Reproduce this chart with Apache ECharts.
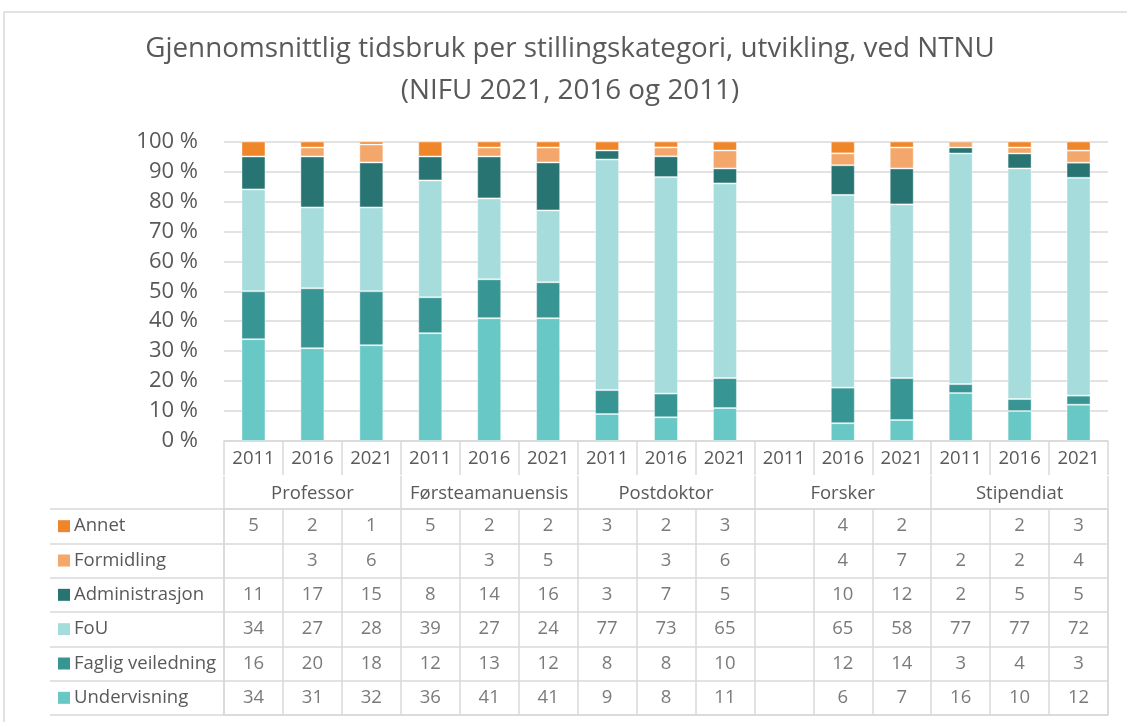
<!DOCTYPE html>
<html>
<head>
<meta charset="utf-8">
<script src="https://cdn.jsdelivr.net/npm/echarts@6/dist/echarts.min.js"></script>
<style>
    html, body { margin: 0; padding: 0; background: #fff; }
    #chart { width: 1127px; height: 722px; }
</style>
</head>
<body>
<div id="chart"></div>
<script>
var years = ['2011', '2016', '2021', '2011', '2016', '2021', '2011', '2016', '2021',
    '2011', '2016', '2021', '2011', '2016', '2021'];
var groups = ['Professor', 'Førsteamanuensis', 'Postdoktor', 'Forsker', 'Stipendiat'];
var percentTicks = [0, 10, 20, 30, 40, 50, 60, 70, 80, 90, 100];

// table rows, top to bottom (same order as in the data table)
var rowNames = ['Annet', 'Formidling', 'Administrasjon', 'FoU', 'Faglig veiledning', 'Undervisning'];
var annet = [5, 2, 1, 5, 2, 2, 3, 2, 3, null, 4, 2, null, 2, 3];
var formidling = [null, 3, 6, null, 3, 5, null, 3, 6, null, 4, 7, 2, 2, 4];
var administrasjon = [11, 17, 15, 8, 14, 16, 3, 7, 5, null, 10, 12, 2, 5, 5];
var fou = [34, 27, 28, 39, 27, 24, 77, 73, 65, null, 65, 58, 77, 77, 72];
var fagligVeiledning = [16, 20, 18, 12, 13, 12, 8, 8, 10, null, 12, 14, 3, 4, 3];
var undervisning = [34, 31, 32, 36, 41, 41, 9, 8, 11, null, 6, 7, 16, 10, 12];

var colors = {
    'Annet': '#F0862A',
    'Formidling': '#F3A76B',
    'Administrasjon': '#277473',
    'FoU': '#A7DCDC',
    'Faglig veiledning': '#379594',
    'Undervisning': '#68C8C6'
};

var rows = [annet, formidling, administrasjon, fou, fagligVeiledning, undervisning];
var textColor = '#595959';
var lineColor = '#D9D9D9';
var font = '"Open Sans", "Noto Sans", sans-serif';
var tableFont = 18.5;

// column totals, used to stack each column to 100 %
var totals = years.map(function(y, i) {
    var sum = 0;
    rows.forEach(function(r) { sum += r[i] || 0; });
    return sum;
});

var barSeries = [];
for (var k = rows.length - 1; k >= 0; k--) {
    (function(k) {
        barSeries.push({
            name: rowNames[k],
            type: 'bar',
            stack: 'all',
            barWidth: 24,
            xAxisIndex: 0,
            yAxisIndex: 0,
            itemStyle: {
                color: colors[rowNames[k]],
                borderColor: 'rgba(255,255,255,0.4)',
                borderWidth: 1
            },
            data: rows[k].map(function(v, i) {
                return (v == null || !totals[i]) ? null : v / totals[i] * 100;
            })
        });
    })(k);
}

var cells = [];
rows.forEach(function(r, ri) {
    r.forEach(function(v, ci) {
        if (v != null) cells.push([ci, ri, v]);
    });
});

var richLabel = { name: { color: textColor, fontSize: tableFont, fontFamily: font, padding: [0, 0, 0, 4] } };
rowNames.forEach(function(n, i) {
    richLabel['sq' + i] = { backgroundColor: colors[n], width: 12, height: 12 };
});

var lineStyle = { color: lineColor, width: 1.5 };

var chart = echarts.init(document.getElementById('chart'));
var option = {
    backgroundColor: '#fff',
    animation: false,
    textStyle: { fontFamily: font },
    title: {
        text: 'Gjennomsnittlig tidsbruk per stillingskategori, utvikling, ved NTNU\n(NIFU 2021, 2016 og 2011)',
        left: 565,
        top: 23,
        textAlign: 'center',
        textStyle: {
            color: textColor,
            fontSize: 27.8,
            fontWeight: 'normal',
            fontFamily: font,
            lineHeight: 42
        }
    },
    graphic: [{
        type: 'rect',
        shape: { x: 4, y: 12, width: 1300, height: 900 },
        style: { fill: 'none', stroke: lineColor, lineWidth: 1.5 },
        silent: true
    }],
    grid: [
        { left: 224, right: 19, top: 141.5, bottom: 281 },
        { left: 224, right: 19, top: 509, bottom: 7, show: true, borderColor: lineColor, borderWidth: 1.5 }
    ],
    xAxis: [{
        type: 'category',
        gridIndex: 0,
        data: years,
        axisLine: { show: true, lineStyle: lineStyle },
        axisTick: { show: true, length: 34, lineStyle: lineStyle },
        axisLabel: { color: textColor, fontSize: tableFont, margin: 8, interval: 0 }
    }, {
        type: 'category',
        gridIndex: 0,
        position: 'bottom',
        offset: 35,
        data: groups,
        axisLine: { show: false },
        axisTick: { show: true, length: 34, lineStyle: lineStyle },
        axisLabel: { color: textColor, fontSize: tableFont, margin: 8, interval: 0 }
    }, {
        type: 'category',
        gridIndex: 1,
        data: years,
        axisLine: { show: false },
        axisTick: { show: false },
        axisLabel: { show: false },
        splitLine: { show: true, interval: 0, lineStyle: lineStyle }
    }],
    yAxis: [{
        type: 'value',
        gridIndex: 0,
        min: 0,
        max: percentTicks[percentTicks.length - 1],
        interval: percentTicks[1] - percentTicks[0],
        axisLine: { show: false },
        axisTick: { show: false },
        axisLabel: { color: textColor, fontSize: 22, margin: 26, formatter: '{value} %' },
        splitLine: { lineStyle: lineStyle }
    }, {
        type: 'category',
        gridIndex: 1,
        inverse: true,
        data: rowNames,
        axisLine: { show: false },
        axisTick: { show: true, length: 174, interval: 0, lineStyle: lineStyle },
        axisLabel: {
            align: 'left',
            margin: 166,
            interval: 0,
            formatter: function(v) {
                return '{sq' + rowNames.indexOf(v) + '|}{name|' + v + '}';
            },
            rich: richLabel
        },
        splitLine: { show: true, interval: 0, lineStyle: lineStyle }
    }, {
        type: 'category',
        gridIndex: 1,
        inverse: true,
        offset: 174,
        data: rowNames,
        axisLine: { show: true, lineStyle: lineStyle },
        axisTick: { show: false },
        axisLabel: { show: false }
    }],
    series: barSeries.concat([{
        type: 'scatter',
        xAxisIndex: 2,
        yAxisIndex: 1,
        symbolSize: 1,
        itemStyle: { color: 'transparent' },
        label: {
            show: true,
            position: 'inside',
            color: textColor,
            fontSize: tableFont,
            formatter: function(p) { return p.value[2]; }
        },
        data: cells
    }])
};
chart.setOption(option);
</script>
</body>
</html>
